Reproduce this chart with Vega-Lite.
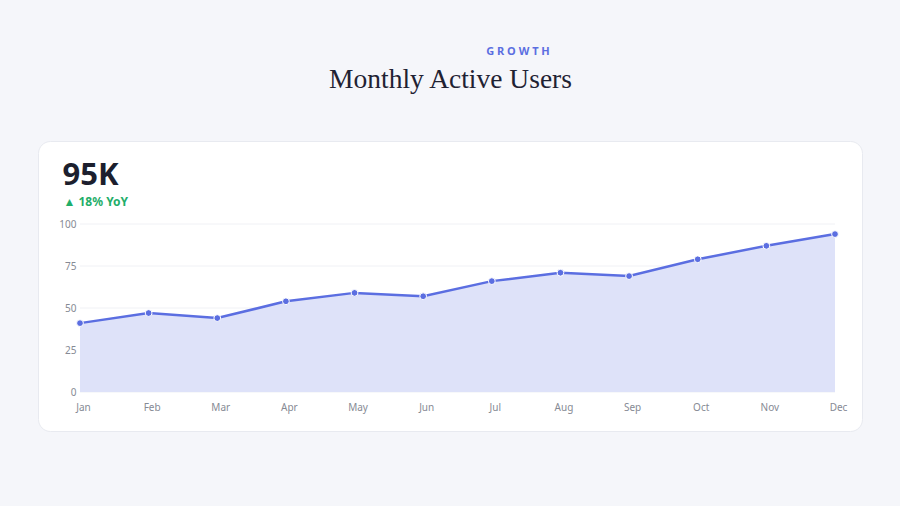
{
  "$schema": "https://vega.github.io/schema/vega-lite/v6.json",
  "width": 824,
  "height": 290,
  "autosize": {"type": "none"},
  "padding": {"left": 38, "top": 141, "right": 38, "bottom": 75},
  "background": "#f5f6fa",
  "view": {"fill": "#ffffff", "stroke": "#e8eaf0", "strokeWidth": 1, "cornerRadius": 12},
  "title": {
    "text": "G R O W T H",
    "anchor": "middle",
    "frame": "group",
    "dx": 68,
    "font": "Noto Sans",
    "fontSize": 11,
    "fontWeight": "bold",
    "color": "#5b6ee1",
    "baseline": "alphabetic",
    "offset": -1
  },
  "datasets": {
    "users": [
      {"month": "Jan", "value": 41},
      {"month": "Feb", "value": 47},
      {"month": "Mar", "value": 44},
      {"month": "Apr", "value": 54},
      {"month": "May", "value": 59},
      {"month": "Jun", "value": 57},
      {"month": "Jul", "value": 66},
      {"month": "Aug", "value": 71},
      {"month": "Sep", "value": 69},
      {"month": "Oct", "value": 79},
      {"month": "Nov", "value": 87},
      {"month": "Dec", "value": 94}
    ],
    "grid": [{"v": 0}, {"v": 25}, {"v": 50}, {"v": 75}, {"v": 100}]
  },
  "resolve": {"axis": {"x": "independent", "y": "independent"}},
  "layer": [
    {
      "data": {"name": "grid"},
      "mark": {"type": "rule", "color": "#f0f1f5", "strokeWidth": 1},
      "encoding": {
        "y": {"field": "v", "type": "quantitative", "axis": null},
        "x": {"datum": "Jan", "type": "nominal", "axis": null},
        "x2": {"datum": "Dec"}
      }
    },
    {
      "data": {"name": "users"},
      "mark": {"type": "area", "color": "#dee2f9", "opacity": 1},
      "encoding": {
        "x": {
          "field": "month", "type": "nominal", "sort": null,
          "scale": {"type": "point", "domain": ["Jan", "Feb", "Mar", "Apr", "May", "Jun", "Jul", "Aug", "Sep", "Oct", "Nov", "Dec"], "range": [42, 797], "padding": 0},
          "axis": {
            "orient": "bottom", "offset": -39, "domain": false, "ticks": false, "grid": false,
            "labelPadding": 10, "labelOffset": 3, "labelAngle": 0, "labelFont": "Noto Sans", "labelFontSize": 10,
            "labelColor": "#868a94",
            "title": "▲ 18% YoY", "titleX": 25, "titleY": -187, "titleAlign": "left",
            "titleAnchor": null, "titleBaseline": "alphabetic", "titleAngle": 0,
            "titleFont": "Noto Sans", "titleFontSize": 12, "titleFontWeight": "bold", "titleColor": "#1fae6a"
          }
        },
        "y": {
          "field": "value", "type": "quantitative",
          "scale": {"domain": [0, 100], "range": [251, 83], "nice": false, "zero": false},
          "axis": {
            "orient": "left", "offset": -41, "domain": false, "ticks": false, "grid": false,
            "values": [0, 25, 50, 75, 100], "labelPadding": 3,
            "labelFont": "Noto Sans", "labelFontSize": 10, "labelColor": "#868a94",
            "title": "95K", "titleX": -17, "titleY": 43, "titleAngle": 0, "titleAlign": "left",
            "titleAnchor": null, "titleBaseline": "alphabetic",
            "titleFont": "Noto Sans", "titleFontSize": 31, "titleFontWeight": "bold", "titleColor": "#1c1f2e"
          }
        }
      }
    },
    {
      "data": {"name": "users"},
      "mark": {"type": "line", "color": "#5b6ee1", "strokeWidth": 2.5},
      "encoding": {
        "x": {
          "field": "month", "type": "nominal", "sort": null,
          "axis": {
            "orient": "top", "domain": false, "ticks": false, "labels": false, "grid": false,
            "title": "Monthly Active Users", "titleX": 412, "titleY": -54, "titleAlign": "center",
            "titleAnchor": null, "titleBaseline": "alphabetic", "titleAngle": 0,
            "titleFont": "Liberation Serif", "titleFontSize": 27.5, "titleFontWeight": "normal", "titleColor": "#1f2233"
          }
        },
        "y": {"field": "value", "type": "quantitative", "axis": null}
      }
    },
    {
      "data": {"name": "users"},
      "mark": {"type": "circle", "size": 46, "fill": "#5b6ee1", "stroke": "#ffffff", "strokeWidth": 1, "opacity": 1},
      "encoding": {
        "x": {"field": "month", "type": "nominal", "sort": null, "axis": null},
        "y": {"field": "value", "type": "quantitative", "axis": null}
      }
    }
  ]
}
